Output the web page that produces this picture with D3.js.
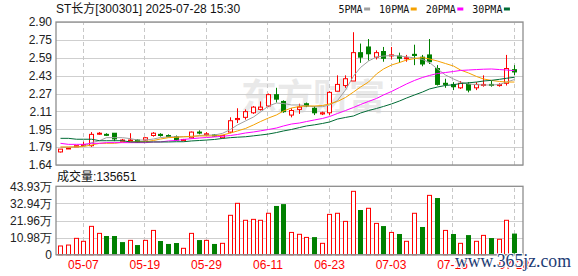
<!DOCTYPE html>
<html>
<head>
<meta charset="utf-8">
<style>
    body {
        margin: 0;
        background: #fff;
    }
    svg {
        display: block;
        font-family: "Liberation Sans", Arial, "Noto Sans CJK SC", sans-serif;
    }
    .tick text {
        font-size: 12px;
        fill: #222;
    }
    .grid .tick line {
        stroke: #cfcfcf;
    }
    .vgrid .tick line {
        stroke: #c8c8c8;
        stroke-dasharray: 4, 3;
    }
    .domain {
        display: none;
    }
</style>
</head>
<body>
<svg id="chart" width="578" height="276"></svg>
<script src="https://cdnjs.cloudflare.com/ajax/libs/d3/7.8.5/d3.min.js"></script>
<script>
    // daily candles (60 trading days)
    const open = [1.755, 1.785, 1.80, 1.815, 1.81, 1.915, 1.91, 1.92, 1.85, 1.855,
        1.86, 1.86, 1.90, 1.91, 1.90, 1.89, 1.855, 1.88, 1.93, 1.905,
        1.905, 1.88, 1.93, 2.04, 2.06, 2.10, 2.13, 2.16, 2.26, 2.20,
        2.08, 2.13, 2.18, 2.14, 2.09, 2.10, 2.29, 2.34, 2.38, 2.63,
        2.68, 2.59, 2.64, 2.605, 2.60, 2.58, 2.615, 2.59, 2.61, 2.49,
        2.36, 2.35, 2.32, 2.35, 2.32, 2.345, 2.35, 2.34, 2.36, 2.48];
    const close = [1.78, 1.79, 1.81, 1.82, 1.91, 1.92, 1.905, 1.87, 1.86, 1.86,
        1.84, 1.88, 1.92, 1.90, 1.89, 1.86, 1.865, 1.93, 1.925, 1.915,
        1.895, 1.90, 2.03, 2.05, 2.11, 2.15, 2.15, 2.26, 2.22, 2.11,
        2.12, 2.15, 2.16, 2.10, 2.10, 2.28, 2.35, 2.40, 2.63, 2.59,
        2.62, 2.63, 2.58, 2.61, 2.58, 2.585, 2.605, 2.53, 2.55, 2.35,
        2.35, 2.33, 2.36, 2.30, 2.35, 2.35, 2.345, 2.35, 2.49, 2.46];
    const high = [1.78, 1.79, 1.81, 1.845, 1.93, 1.93, 1.92, 1.92, 1.87, 1.92,
        1.865, 1.885, 1.93, 1.92, 1.91, 1.90, 1.87, 1.935, 1.945, 1.93,
        1.91, 1.905, 2.06, 2.14, 2.13, 2.16, 2.20, 2.27, 2.32, 2.21,
        2.14, 2.18, 2.19, 2.16, 2.11, 2.29, 2.43, 2.43, 2.81, 2.71,
        2.75, 2.65, 2.68, 2.68, 2.63, 2.61, 2.70, 2.61, 2.75, 2.52,
        2.40, 2.37, 2.38, 2.37, 2.37, 2.43, 2.38, 2.36, 2.61, 2.52];
    const low = [1.75, 1.785, 1.80, 1.81, 1.80, 1.905, 1.895, 1.85, 1.85, 1.85,
        1.835, 1.855, 1.89, 1.89, 1.885, 1.855, 1.85, 1.875, 1.91, 1.90,
        1.89, 1.875, 1.92, 2.01, 2.04, 2.09, 2.12, 2.15, 2.19, 2.10,
        2.06, 2.09, 2.15, 2.08, 2.08, 2.08, 2.29, 2.32, 2.38, 2.54,
        2.56, 2.57, 2.55, 2.57, 2.54, 2.55, 2.52, 2.51, 2.53, 2.34,
        2.32, 2.30, 2.31, 2.28, 2.30, 2.33, 2.33, 2.33, 2.34, 2.43];

    // moving averages as drawn
    const ma5 = [1.796, 1.796, 1.799, 1.807, 1.837, 1.854, 1.881, 1.881, 1.881, 1.872,
        1.860, 1.860, 1.869, 1.882, 1.887, 1.889, 1.889, 1.889, 1.900, 1.904,
        1.904, 1.919, 1.953, 1.993, 2.028, 2.063, 2.107, 2.160, 2.186, 2.182,
        2.169, 2.169, 2.160, 2.154, 2.154, 2.169, 2.208, 2.301, 2.424, 2.499,
        2.556, 2.592, 2.600, 2.605, 2.600, 2.594, 2.583, 2.570, 2.543, 2.486,
        2.433, 2.398, 2.371, 2.354, 2.348, 2.345, 2.345, 2.349, 2.371, 2.393];
    const ma10 = [1.799, 1.799, 1.799, 1.803, 1.816, 1.831, 1.831, 1.831, 1.840, 1.843,
        1.845, 1.845, 1.856, 1.869, 1.881, 1.884, 1.889, 1.893, 1.896, 1.896,
        1.896, 1.904, 1.922, 1.940, 1.962, 1.993, 2.023, 2.054, 2.081, 2.116,
        2.142, 2.156, 2.160, 2.160, 2.164, 2.178, 2.200, 2.235, 2.283, 2.327,
        2.371, 2.442, 2.486, 2.521, 2.543, 2.565, 2.578, 2.587, 2.574, 2.556,
        2.534, 2.512, 2.477, 2.451, 2.420, 2.398, 2.385, 2.376, 2.371, 2.371];
    const ma20 = [1.831, 1.822, 1.822, 1.822, 1.831, 1.831, 1.837, 1.837, 1.837, 1.837,
        1.837, 1.837, 1.843, 1.843, 1.852, 1.856, 1.865, 1.872, 1.878, 1.882,
        1.887, 1.893, 1.900, 1.909, 1.922, 1.931, 1.941, 1.953, 1.966, 1.984,
        2.001, 2.010, 2.023, 2.037, 2.050, 2.067, 2.094, 2.120, 2.147, 2.173,
        2.200, 2.226, 2.257, 2.288, 2.323, 2.354, 2.385, 2.411, 2.429, 2.446,
        2.455, 2.464, 2.473, 2.477, 2.481, 2.484, 2.486, 2.481, 2.477, 2.471];
    const ma30 = [1.875, 1.875, 1.867, 1.867, 1.867, 1.854, 1.854, 1.854, 1.854, 1.843,
        1.843, 1.843, 1.843, 1.843, 1.843, 1.845, 1.845, 1.852, 1.856, 1.860,
        1.865, 1.874, 1.881, 1.885, 1.889, 1.897, 1.904, 1.913, 1.926, 1.940,
        1.953, 1.970, 1.984, 1.994, 2.006, 2.019, 2.045, 2.059, 2.072, 2.098,
        2.120, 2.138, 2.156, 2.178, 2.204, 2.230, 2.257, 2.283, 2.310, 2.327,
        2.341, 2.347, 2.358, 2.364, 2.371, 2.380, 2.386, 2.395, 2.404, 2.413];

    // volume in 万 shares, and R/G colour of each volume bar
    const volume = [5.6, 6.2, 10.5, 8.6, 18.2, 13.7, 12.0, 12.0, 8.1, 9.2,
        6.2, 9.2, 15.6, 8.8, 6.9, 7.5, 4.1, 13.7, 9.4, 9.2,
        6.9, 7.3, 25.3, 33.0, 22.1, 22.7, 22.1, 26.6, 31.3, 32.5,
        14.3, 13.1, 11.1, 11.3, 7.3, 25.9, 26.6, 21.4, 40.7, 28.7,
        29.8, 20.1, 18.4, 14.3, 13.3, 8.6, 26.6, 17.8, 38.1, 36.4,
        15.6, 13.3, 7.3, 12.6, 8.6, 12.4, 10.7, 9.9, 22.1, 13.5651];
    const volColor = "RRRRRRGGGRGRRGGGRRGRGRRRRRRRGGRRRGRRRRRGRRGRGRRGRGRGRGRRGRRG";

    const xTickIdx = [3, 11, 19, 27, 35, 43, 51, 59];
    const xTickLabels = ["05-07", "05-19", "05-29", "06-11", "06-23", "07-03", "07-16", "07-28"];
    const priceTickLabels = ["1.64", "1.79", "1.95", "2.11", "2.27", "2.43", "2.59", "2.75", "2.90"];
    const volTickVals = [0, 10.98, 21.96, 32.94, 43.93];
    const volTickLabels = ["0", "10.98万", "21.96万", "32.94万", "43.93万"];

    const maNames = ["5PMA", "10PMA", "20PMA", "30PMA"];
    const maColors = ["#a0a0a0", "#f5a100", "#ff00ff", "#006b35"];

    const UP = "#ff0000", DOWN = "#008000";
    const left = 56, right = 523;
    const mainTop = 22, mainBottom = 165;
    const volTop = 186.3, volBottom = 254.7;

    const svg = d3.select("#chart");

    const x = d3.scaleBand()
        .domain(d3.range(open.length))
        .range([56.5, 56.5 + 7.69 * open.length]);
    const cx = i => Math.round(x(i) + x.bandwidth() / 2) + 0.5;

    const y = d3.scaleLinear().domain([1.64, 2.90]).range([mainBottom, mainTop]);
    const yv = d3.scaleLinear().domain([0, 43.93]).range([volBottom, volTop]);

    // watermark
    svg.append("text")
        .attr("x", 241)
        .attr("y", 110)
        .attr("font-family", "Noto Sans CJK SC")
        .attr("font-weight", "bold")
        .attr("font-size", 36)
        .attr("fill", "#e9e9e9")
        .text("东方财富");

    // title + legend
    svg.append("text")
        .attr("x", 56)
        .attr("y", 13)
        .attr("font-size", 12)
        .attr("fill", "#111")
        .text("ST长方[300301] 2025-07-28 15:30");

    let lx = 338.5;
    maNames.forEach((name, k) => {
        const t = svg.append("text")
            .attr("x", lx)
            .attr("y", 13)
            .attr("font-family", "DejaVu Sans Mono")
            .attr("font-size", 10)
            .attr("fill", "#111")
            .text(name);
        const w = t.node().getComputedTextLength();
        svg.append("rect")
            .attr("x", lx + w + 1.5)
            .attr("y", 7.5)
            .attr("width", 6)
            .attr("height", 3)
            .attr("fill", maColors[k]);
        lx += w + 1.5 + 6 + 9;
    });

    // price grid and axis
    const priceStep = (2.90 - 1.64) / 8;
    svg.append("g")
        .attr("class", "grid")
        .attr("transform", `translate(${left},0)`)
        .call(d3.axisLeft(y)
            .tickValues(d3.range(9).map(k => 1.64 + k * priceStep))
            .tickFormat((d, i) => priceTickLabels[i])
            .tickSize(-(right - left))
            .tickPadding(4));

    svg.append("g")
        .attr("class", "vgrid")
        .attr("transform", `translate(0,${mainBottom})`)
        .call(d3.axisBottom(x)
            .tickValues(xTickIdx)
            .tickFormat("")
            .tickSize(-(mainBottom - mainTop)));

    // volume grid and axis
    svg.append("g")
        .attr("class", "grid")
        .attr("transform", `translate(${left},0)`)
        .call(d3.axisLeft(yv)
            .tickValues(volTickVals)
            .tickFormat((d, i) => volTickLabels[i])
            .tickSize(-(right - left))
            .tickPadding(4));

    const xAxis = svg.append("g")
        .attr("class", "vgrid")
        .attr("transform", `translate(0,${volBottom})`)
        .call(d3.axisBottom(x)
            .tickValues(xTickIdx)
            .tickFormat((d, i) => xTickLabels[i])
            .tickSize(-(volBottom - volTop))
            .tickPadding(6));
    xAxis.selectAll("text").style("fill", UP);

    svg.selectAll(".grid .tick line, .vgrid .tick line").attr("shape-rendering", "crispEdges");

    // candles
    const idx = d3.range(open.length);
    const candles = svg.append("g");
    idx.forEach(i => {
        const up = close[i] >= open[i];
        const col = up ? UP : DOWN;
        const px = cx(i);
        candles.append("line")
            .attr("x1", px).attr("x2", px)
            .attr("y1", y(high[i])).attr("y2", y(low[i]))
            .attr("stroke", col);
        const top = y(Math.max(open[i], close[i]));
        const h = Math.max(1, Math.abs(y(open[i]) - y(close[i])));
        if (up) {
            candles.append("rect")
                .attr("x", px - 2).attr("width", 4)
                .attr("y", top).attr("height", h)
                .attr("fill", "#fff").attr("stroke", col);
        } else {
            candles.append("rect")
                .attr("x", px - 2.5).attr("width", 5)
                .attr("y", top - 0.5).attr("height", h + 1)
                .attr("fill", col);
        }
    });

    // moving average lines
    [ma5, ma10, ma20, ma30].forEach((ma, k) => {
        svg.append("path")
            .datum(ma)
            .attr("fill", "none")
            .attr("stroke", maColors[k])
            .attr("stroke-width", 1)
            .attr("d", d3.line().x((d, i) => cx(i)).y(d => y(d)));
    });

    // volume bars
    const vols = svg.append("g");
    idx.forEach(i => {
        const px = cx(i);
        const top = yv(volume[i]);
        if (volColor[i] === "R") {
            vols.append("rect")
                .attr("x", px - 2).attr("width", 4)
                .attr("y", top).attr("height", volBottom - top)
                .attr("fill", "#fff").attr("stroke", UP);
        } else {
            vols.append("rect")
                .attr("x", px - 2.5).attr("width", 5)
                .attr("y", top).attr("height", volBottom - top)
                .attr("fill", DOWN);
        }
    });

    svg.append("text")
        .attr("x", 57)
        .attr("y", 181)
        .attr("font-size", 12)
        .attr("fill", "#111")
        .text("成交量:135651");

    // panel frames
    [[mainTop, mainBottom], [volTop, volBottom]].forEach(([t, b]) => {
        svg.append("rect")
            .attr("x", left).attr("y", t)
            .attr("width", right - left).attr("height", b - t)
            .attr("fill", "none")
            .attr("stroke", "#8e8e8e")
            .attr("stroke-width", 1.3);
    });

    // site stamp
    svg.append("text")
        .attr("x", 455)
        .attr("y", 266.5)
        .attr("font-family", "Liberation Serif")
        .attr("font-size", 19)
        .attr("textLength", 116)
        .attr("lengthAdjust", "spacingAndGlyphs")
        .attr("fill", "#1d3c74")
        .attr("stroke", "#fff")
        .attr("stroke-width", 2)
        .attr("paint-order", "stroke")
        .text("www.365jz.com");
</script>
</body>
</html>
